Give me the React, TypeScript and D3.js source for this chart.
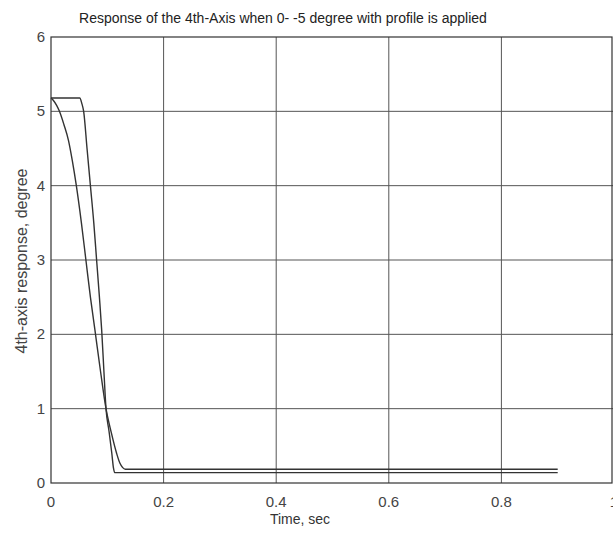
import { useRef, useEffect } from 'react';
import * as d3 from 'd3';

// time (s) and response (degree)
const timeA = [0, 0.051, 0.055, 0.058, 0.064, 0.070, 0.076, 0.081, 0.086, 0.090, 0.094, 0.0977, 0.103, 0.108, 0.111, 0.113, 0.9];
const valueA = [5.18, 5.18, 5.1, 5.0, 4.5, 4.0, 3.5, 3.0, 2.5, 2.06, 1.5, 1.0, 0.7, 0.4, 0.2, 0.14, 0.14];

const timeB = [0, 0.004, 0.01, 0.015, 0.023, 0.031, 0.038, 0.045, 0.054, 0.062, 0.070, 0.078, 0.088, 0.0977, 0.107, 0.1165, 0.1225, 0.127, 0.132, 0.9];
const valueB = [5.18, 5.15, 5.08, 5.0, 4.82, 4.61, 4.33, 4.0, 3.5, 3.0, 2.5, 2.06, 1.5, 1.0, 0.68, 0.4, 0.265, 0.21, 0.185, 0.185];

const xTicks = [0, 0.2, 0.4, 0.6, 0.8, 1];
const yTicks = [0, 1, 2, 3, 4, 5, 6];

const title = 'Response of the 4th-Axis when 0- -5 degree with profile is applied';
const xLabel = 'Time, sec';
const yLabel = '4th-axis response, degree';

export default function App() {
  const svgRef = useRef<SVGSVGElement>(null);

  useEffect(() => {
    const w = 613;
    const h = 533;
    const left = 51, right = 614, top = 37, bottom = 483;
    const svg = d3.select(svgRef.current)
      .attr('width', w)
      .attr('height', h)
      .style('background', '#fff');
    svg.selectAll('*').remove();

    const x = d3.scaleLinear().domain([0, 1]).range([left, right]);
    const y = d3.scaleLinear().domain([0, 6]).range([bottom, top]);
    const font = 'Liberation Sans, Arial, sans-serif';

    // grid
    svg.append('g')
      .selectAll('line.gx')
      .data(xTicks.slice(1, -1))
      .join('line')
      .attr('x1', d => x(d)).attr('x2', d => x(d))
      .attr('y1', top).attr('y2', bottom)
      .attr('stroke', '#555').attr('stroke-width', 1);
    svg.append('g')
      .selectAll('line.gy')
      .data(yTicks.slice(1, -1))
      .join('line')
      .attr('x1', left).attr('x2', right)
      .attr('y1', d => y(d)).attr('y2', d => y(d))
      .attr('stroke', '#555').attr('stroke-width', 1);

    // box
    svg.append('rect')
      .attr('x', left).attr('y', top)
      .attr('width', 612 - left).attr('height', bottom - top)
      .attr('fill', 'none').attr('stroke', '#333').attr('stroke-width', 1.2);

    // tick labels
    svg.append('g')
      .selectAll('text')
      .data(xTicks)
      .join('text')
      .attr('x', d => x(d)).attr('y', bottom + 24)
      .attr('text-anchor', 'middle')
      .attr('font-family', font).attr('font-size', 15).attr('fill', '#444')
      .text(d => String(d));
    svg.append('g')
      .selectAll('text')
      .data(yTicks)
      .join('text')
      .attr('x', left - 6).attr('y', d => y(d) + 5)
      .attr('text-anchor', 'end')
      .attr('font-family', font).attr('font-size', 15).attr('fill', '#444')
      .text(d => String(d));

    // curves
    const line = d3.line<[number, number]>()
      .x(d => x(d[0]))
      .y(d => y(d[1]))
      .curve(d3.curveMonotoneX);
    const seriesA = timeA.map((t, i) => [t, valueA[i]] as [number, number]);
    const seriesB = timeB.map((t, i) => [t, valueB[i]] as [number, number]);
    svg.selectAll('.line')
      .data([seriesA, seriesB])
      .join('path')
      .attr('d', d => line(d))
      .attr('fill', 'none')
      .attr('stroke', '#333')
      .attr('stroke-width', 1.4);

    // texts
    svg.append('text')
      .attr('x', 283).attr('y', 23)
      .attr('text-anchor', 'middle')
      .attr('font-family', font).attr('font-size', 14).attr('fill', '#222')
      .text(title);
    svg.append('text')
      .attr('x', 300).attr('y', 524)
      .attr('text-anchor', 'middle')
      .attr('font-family', font).attr('font-size', 14).attr('fill', '#333')
      .text(xLabel);
    svg.append('text')
      .attr('transform', `translate(27, 261) rotate(-90)`)
      .attr('text-anchor', 'middle')
      .attr('font-family', font).attr('font-size', 16).attr('fill', '#444')
      .text(yLabel);
  }, []);

  return (
    <div style={{ position: 'absolute', left: 0, top: 0 }}>
      <svg ref={svgRef}></svg>
    </div>
  );
}
